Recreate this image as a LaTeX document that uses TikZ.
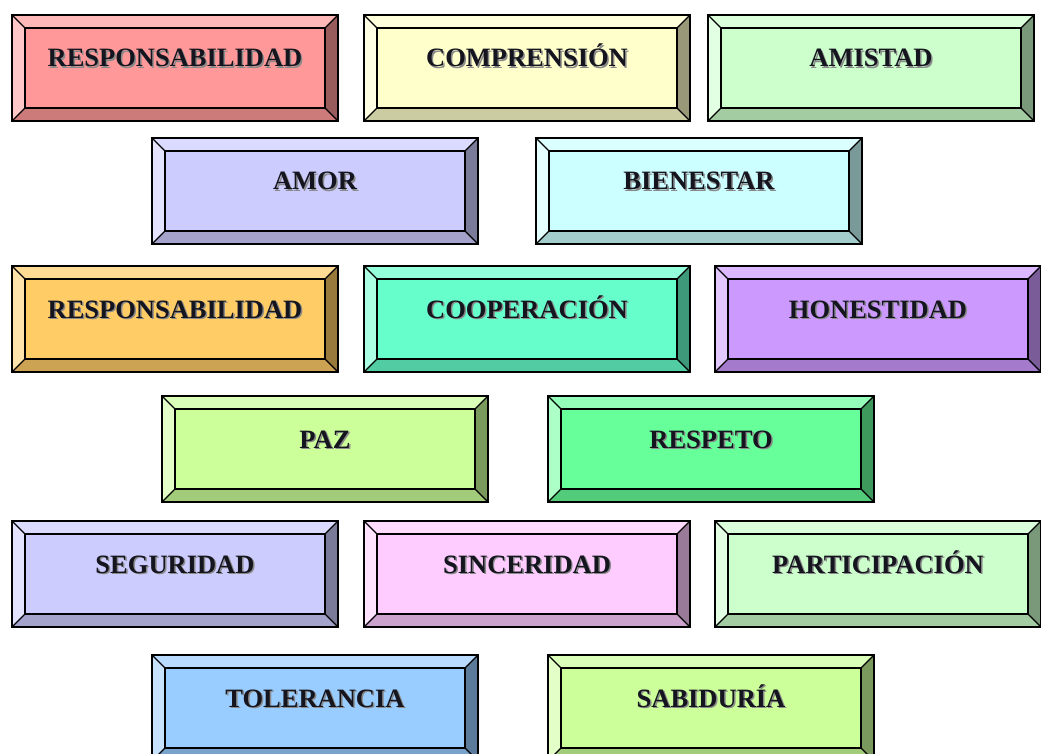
\documentclass[tikz,border=0pt]{standalone}
\usepackage{fontspec}
\setmainfont{Liberation Serif}
\definecolor{cA}{HTML}{FF9999}
\definecolor{cB}{HTML}{FFFFCC}
\definecolor{cC}{HTML}{CCFFCC}
\definecolor{cD}{HTML}{CCCCFF}
\definecolor{cE}{HTML}{CCFFFF}
\definecolor{cF}{HTML}{FFCC66}
\definecolor{cG}{HTML}{66FFCC}
\definecolor{cH}{HTML}{CC99FF}
\definecolor{cI}{HTML}{CCFF99}
\definecolor{cJ}{HTML}{66FF99}
\definecolor{cK}{HTML}{FFCCFF}
\definecolor{cL}{HTML}{99CCFF}
\definecolor{txtshadow}{HTML}{8A8A8A}
\definecolor{txtmain}{HTML}{15151F}
\tikzset{
  lbl/.style={font=\fontsize{26.5}{26.5}\selectfont\bfseries, inner sep=0pt, anchor=base},
  edge/.style={line width=1.6pt, line join=miter},
  diag/.style={line width=1.1pt}
}
\newcommand{\bevelbox}[5]{%
 \begin{scope}[shift={(#1,#2)}]
  \fill[#3!70!white] (0,0) -- (326,0) -- (313,13) -- (13,13) -- cycle;
  \fill[#3!55!white] (0,0) -- (13,13) -- (13,93) -- (0,106) -- cycle;
  \fill[#3!60!black] (326,0) -- (326,106) -- (313,93) -- (313,13) -- cycle;
  \fill[#3!80!black] (0,106) -- (13,93) -- (313,93) -- (326,106) -- cycle;
  \fill[#3] (13,13) rectangle (313,93);
  \draw[diag] (0,0) -- (13,13) (326,0) -- (313,13) (0,106) -- (13,93) (326,106) -- (313,93);
  \draw[edge] (0,0) rectangle (326,106);
  \draw[edge] (13,13) rectangle (313,93);
  \node[lbl, text=txtshadow] (#5s) at (164.5,53.5) {#4};
  \node[lbl, text=txtmain] (#5) at (163,52) {#4};
 \end{scope}}
\begin{document}
\begin{tikzpicture}[x=1pt,y=-1pt]
\useasboundingbox[fill=white] (0,0) rectangle (1041,754);
\bevelbox{12}{15}{cA}{RESPONSABILIDAD}{b1}
\bevelbox{364}{15}{cB}{COMPRENSIÓN}{b2}
\bevelbox{708}{15}{cC}{AMISTAD}{b3}
\bevelbox{152}{138}{cD}{AMOR}{b4}
\bevelbox{536}{138}{cE}{BIENESTAR}{b5}
\bevelbox{12}{266}{cF}{RESPONSABILIDAD}{b6}
\bevelbox{364}{266}{cG}{COOPERACIÓN}{b7}
\bevelbox{715}{266}{cH}{HONESTIDAD}{b8}
\bevelbox{162}{396}{cI}{PAZ}{b9}
\bevelbox{548}{396}{cJ}{RESPETO}{b10}
\bevelbox{12}{521}{cD}{SEGURIDAD}{b11}
\bevelbox{364}{521}{cK}{SINCERIDAD}{b12}
\bevelbox{715}{521}{cC}{PARTICIPACIÓN}{b13}
\bevelbox{152}{655}{cL}{TOLERANCIA}{b14}
\bevelbox{548}{655}{cI}{SABIDURÍA}{b15}
\end{tikzpicture}
\end{document}
